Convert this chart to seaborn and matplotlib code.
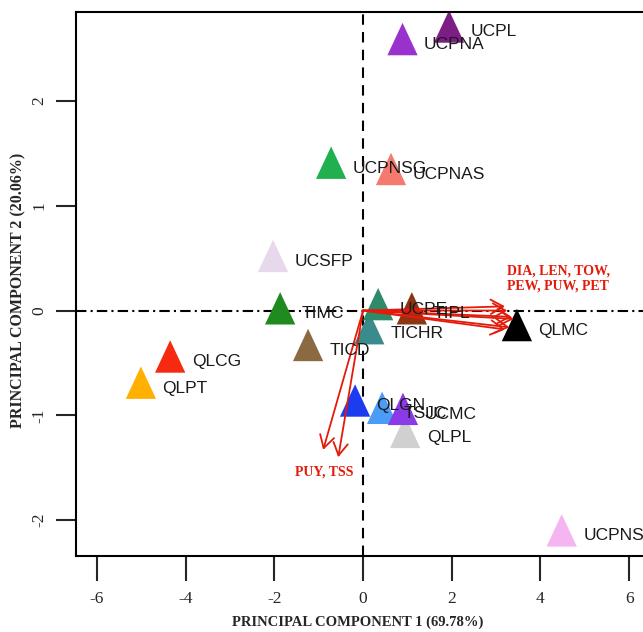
import matplotlib
matplotlib.use("Agg")
import matplotlib.pyplot as plt
import numpy as np
import pandas as pd
import seaborn as sns
from matplotlib.markers import MarkerStyle
from matplotlib.path import Path

# Scores of the genotypes on the first two principal components
genotypes = ["QLPT", "QLCG", "UCSFP", "TIMC", "TICD", "UCPNSG", "UCPNAS",
             "UCPNA", "UCPL", "TICHR", "UCPE", "TIPL", "QLMC", "QLGN",
             "TSJC", "QLPL", "UCMC", "UCPNS"]
pc1 = [-5.01, -4.35, -2.03, -1.87, -1.24, -0.72, 0.63,
       0.89, 1.94, 0.14, 0.34, 1.10, 3.47, -0.18,
       0.43, 0.95, 0.90, 4.48]
pc2 = [-0.74, -0.49, 0.47, -0.03, -0.38, 1.36, 1.30,
       2.54, 2.66, -0.22, 0.01, -0.03, -0.19, -0.91,
       -0.98, -1.21, -0.99, -2.15]
point_colors = ["#FFB000", "#F52A10", "#E8D8EC", "#1F8A1F", "#8B6A42", "#20B050", "#F47A6E",
                "#9932CC", "#7D1E84", "#3A8C8C", "#2E8B6A", "#8B3513", "#000000", "#1C3CF0",
                "#4A9CF5", "#D0D0D0", "#8A3AE8", "#F5B5F0"]

# Variable loadings (arrows)
variables = ["DIA", "LEN", "TOW", "PEW", "PUW", "PET", "PUY", "TSS"]
load1 = [3.20, 3.25, 3.35, 3.40, 3.30, 3.20, -0.90, -0.56]
load2 = [0.04, 0.00, -0.06, -0.08, -0.16, -0.18, -1.33, -1.40]

df = pd.DataFrame({"genotype": genotypes, "pc1": pc1, "pc2": pc2})
palette = dict(zip(genotypes, point_colors))

sns.set_style("white")
plt.rcParams["font.family"] = ["Liberation Sans", "DejaVu Sans"]
plt.rcParams["axes.unicode_minus"] = False

fig = plt.figure(figsize=(6.43, 6.32), dpi=100)
ax = fig.add_axes([76 / 643, 76 / 632, 644 / 643, 544 / 632])

# triangle like R's pch 17 (centred on its centroid)
tri = MarkerStyle(Path([(0, 1), (-0.70, -0.5), (0.70, -0.5), (0, 1)], closed=True))

ax.axhline(0, color="black", lw=1.5, ls=(0, (5, 2, 1, 2)), zorder=1)
ax.axvline(0, color="black", lw=1.5, ls=(0, (5, 3.5)), zorder=1)

sns.scatterplot(data=df, x="pc1", y="pc2", hue="genotype", palette=palette,
                marker=tri, s=970, linewidth=0, edgecolor="none",
                legend=False, ax=ax, zorder=2)

for name, x, y in zip(genotypes, pc1, pc2):
    ax.annotate(name, (x, y), xytext=(15.5, 0), textcoords="offset points",
                ha="left", va="center", fontsize=12.5, color="#1a1a1a", zorder=4)

red = "#E41A0A"
for x, y in zip(load1, load2):
    ax.annotate("", xy=(x, y), xytext=(0, 0), zorder=3,
                arrowprops=dict(arrowstyle="->,head_length=0.45,head_width=0.26",
                                color=red, lw=1.3, shrinkA=0, shrinkB=0,
                                mutation_scale=20))

ax.text(3.25, 0.305, "DIA, LEN, TOW,\nPEW, PUW, PET", ha="left", va="center",
        color=red, fontsize=10, fontweight="bold", family="Liberation Serif",
        linespacing=1.25, zorder=4)
ax.text(-0.88, -1.54, "PUY, TSS", ha="center", va="center", color=red,
        fontsize=10, fontweight="bold", family="Liberation Serif", zorder=4)

ax.set_xlim(-6.474, 8.05)
ax.set_ylim(-2.343, 2.85)
ax.set_xticks([-6, -4, -2, 0, 2, 4, 6])
ax.set_yticks([-2, -1, 0, 1, 2])
ax.set_xlabel("")
ax.set_ylabel("")
for side in ["left", "bottom", "top", "right"]:
    ax.spines[side].set_linewidth(1.5)
    ax.spines[side].set_color("black")
ax.tick_params(axis="x", direction="out", length=18, width=1.5, pad=7,
               labelsize=12.5, bottom=True)
ax.tick_params(axis="y", direction="out", length=14.5, width=1.5, pad=6,
               labelsize=12.5, left=True)
for lab in ax.get_xticklabels():
    lab.set_family("Liberation Serif")
for lab in ax.get_yticklabels():
    lab.set_family("Liberation Serif")
    lab.set_rotation(90)
    lab.set_va("center")

fig.text(358 / 643, 1 - 622 / 632, "PRINCIPAL COMPONENT 1 (69.78%)", ha="center",
         va="center", fontsize=10.5, fontweight="bold", family="Liberation Serif")
fig.text(18 / 643, 1 - 290 / 632, "PRINCIPAL COMPONENT 2 (20.06%)", ha="center",
         va="center", rotation=90, fontsize=11.5, fontweight="bold",
         family="Liberation Serif")

fig.savefig("out.png", dpi=100)
